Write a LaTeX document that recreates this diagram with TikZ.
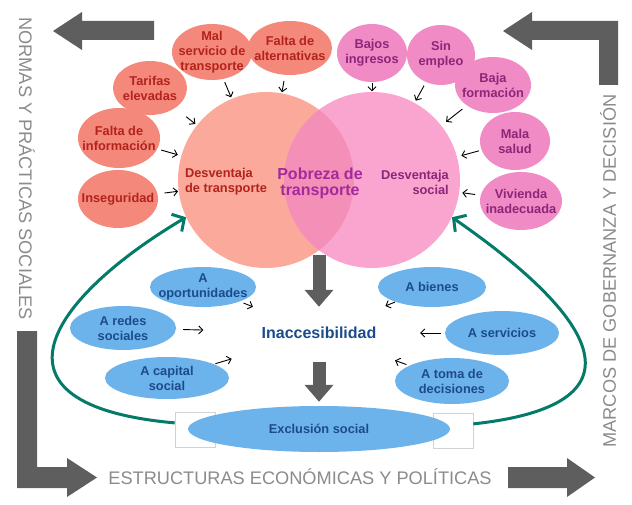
\documentclass[tikz,border=0pt]{standalone}
\usepackage{fontspec}
\setmainfont{Liberation Sans}
\usetikzlibrary{shapes.geometric,arrows.meta}
\definecolor{framegray}{HTML}{5E5E5E}
\definecolor{sidegray}{HTML}{8B8B8B}
\definecolor{boxgray}{HTML}{D2D2D2}
\definecolor{circsalmon}{HTML}{FAA99A}
\definecolor{circpink}{HTML}{F9A5CF}
\definecolor{overlappink}{HTML}{F48FB8}
\definecolor{salmonfill}{HTML}{F4887B}
\definecolor{pinkfill}{HTML}{F18BC5}
\definecolor{bluefill}{HTML}{6DB3EB}
\definecolor{redtext}{HTML}{B3231C}
\definecolor{purpletext}{HTML}{8C2679}
\definecolor{pobrtext}{HTML}{A42A9B}
\definecolor{bluetext}{HTML}{1C4B8B}
\definecolor{loopteal}{HTML}{047A68}
\begin{document}
\begin{tikzpicture}[x=1pt,y=-1pt,
    every node/.style={font=\bfseries\fontsize{12.8}{15}\selectfont, align=center},
    bubble/.style 2 args={ellipse, minimum width=#1pt, minimum height=#2pt, inner sep=-20pt},
    salmon/.style={fill=salmonfill, text=redtext},
    pinky/.style={fill=pinkfill, text=purpletext},
    bluey/.style={fill=bluefill, text=bluetext},
    smallarrow/.style={-{Straight Barb[length=4pt,width=8pt]}, line width=0.9pt},
    backflow/.style={-{Straight Barb[length=9pt,width=20pt]}, line width=3pt, draw=loopteal},
    bigdown/.style={-{Triangle[length=17pt,width=28pt]}, line width=13pt, draw=framegray},
    sidelabel/.style={font=\fontsize{18.2}{20}\selectfont, text=sidegray},
    markbox/.style={draw=boxgray, line width=0.6pt, minimum width=40pt, minimum height=35pt, inner sep=0pt}]
  \useasboundingbox (0,0) rectangle (632,505);

  \fill[framegray] (53,31) -- (82,12) -- (82,21) -- (154,21) -- (154,40) -- (82,40) -- (82,50) -- cycle;
  \fill[framegray] (503,31) -- (532,12) -- (532,21) -- (618,21) -- (618,85) -- (599,85) -- (599,40) -- (532,40) -- (532,50) -- cycle;
  \fill[framegray] (17,331) -- (37,331) -- (37,467) -- (67,467) -- (67,458) -- (97,477.5) -- (67,497) -- (67,488) -- (17,488) -- cycle;
  \fill[framegray] (508,467) -- (567,467) -- (567,458) -- (595,477.5) -- (567,497) -- (567,488) -- (508,488) -- cycle;

  \node[sidelabel, rotate=-90] (normas) at (27,168.5) {NORMAS Y PRÁCTICAS SOCIALES};
  \node[sidelabel, rotate=90] (marcos) at (608,271) {MARCOS DE GOBERNANZA Y DECISIÓN};
  \node[sidelabel] (estruct) at (300,476.5) {ESTRUCTURAS ECONÓMICAS Y POLÍTICAS};

  \node[circle, minimum size=176pt, inner sep=0pt, fill=circsalmon] (L) at (266,180) {};
  \node[circle, minimum size=176pt, inner sep=0pt, fill=circpink] (R) at (372,180) {};
  \begin{scope}
    \clip (L.center) circle[radius=88pt];
    \fill[overlappink] (R.center) circle[radius=88pt];
  \end{scope}
  \node[text=redtext, align=left] (dtra) at (226,182) {Desventaja\\de transporte};
  \node[text=pobrtext, font=\bfseries\fontsize{16}{16}\selectfont] (pobr) at (320,183) {Pobreza de\\transporte};
  \node[text=purpletext, align=right] (dsoc) at (415,182) {Desventaja\\social};

  \node[bubble={80}{58}, salmon] (inse) at (118,199) {Inseguridad};
  \node[bubble={82}{60}, salmon] (info) at (119,138) {Falta de\\información};
  \node[bubble={74}{54}, salmon] (tari) at (150,88) {Tarifas\\elevadas};
  \node[bubble={84}{54}, salmon] (falt) at (290,48) {Falta de\\alternativas};
  \node[bubble={80}{56}, salmon] (mals) at (212,52) {Mal\\servicio de\\transporte};

  \node[bubble={70}{58}, pinky] (bajo) at (372,53) {Bajos\\ingresos};
  \node[bubble={68}{60}, pinky] (sinm) at (441,55) {Sin\\empleo};
  \node[bubble={76}{56}, pinky] (bajf) at (493,85) {Baja\\formación};
  \node[bubble={70}{58}, pinky] (mala) at (515,141) {Mala\\salud};
  \node[bubble={82}{58}, pinky] (vivi) at (521,201) {Vivienda\\inadecuada};

  \node[ellipse, minimum width=200pt, minimum height=48pt, inner sep=-20pt, text=bluetext,
    font=\bfseries\fontsize{16}{18}\selectfont] (inac) at (319,333) {Inaccesibilidad};
  \node[bubble={106}{40}, bluey] (opor) at (203,287) {A\\oportunidades};
  \node[bubble={106}{44}, bluey] (rede) at (123,328) {A redes\\sociales};
  \node[bubble={124}{42}, bluey] (capi) at (167,378) {A capital\\social};
  \node[bubble={108}{40}, bluey] (bien) at (432,287) {A bienes};
  \node[bubble={114}{44}, bluey] (serv) at (502,333) {A servicios};
  \node[bubble={114}{46}, bluey] (toma) at (452,381) {A toma de\\decisiones};

  \node[markbox] (lbox) at (195,429.5) {};
  \node[markbox] (rbox) at (453,430.5) {};
  \node[bubble={262}{46}, bluey] (excl) at (319,429) {Exclusión social};

  \coordinate (meet) at (319,255);
  \draw[bigdown, shorten >=2pt] (meet) -- (inac);
  \draw[bigdown, shorten <=5pt, shorten >=4pt] (inac) -- (excl);

  \begin{scope}[smallarrow]
    \draw[shorten <=3.4pt, shorten >=1.5pt] (mals) to (L);
    \draw[shorten <=6pt, shorten >=1pt] (falt) to (L);
    \draw[shorten <=14pt, shorten >=2pt] (tari) to (L);
    \draw[shorten <=4pt, shorten >=3.5pt] (info) to (L);
    \draw[shorten <=7pt, shorten >=0.5pt] (inse) to (L);
    \draw[shorten <=0.5pt, shorten >=0.5pt] (bajo) to (R);
    \draw[shorten <=4pt, shorten >=2.4pt] (sinm) to (R);
    \draw[shorten <=5.6pt, shorten >=6pt] (bajf) to (R);
    \draw[shorten <=2.8pt, shorten >=4.4pt] (mala) to (R);
    \draw[shorten <=5.5pt, shorten >=3pt] (vivi) to (R);
    \draw[shorten <=4pt, shorten >=15pt] (opor) to (inac);
    \draw[shorten <=7pt, shorten >=16pt] (rede) to (inac);
    \draw[shorten <=1.5pt, shorten >=25pt] (capi) to (inac);
    \draw[shorten <=0.5pt, shorten >=16.5pt] (bien) to (inac);
    \draw[shorten <=4pt, shorten >=1pt] (serv) to (inac);
    \draw[shorten <=3pt, shorten >=21.6pt] (toma) to (inac);
  \end{scope}

  \draw[backflow] (lbox.162) .. controls (-25,405) and (50,298) .. (L.205);
  \draw[backflow] (rbox.18) .. controls (648,405) and (600,320) .. (R.-25);
\end{tikzpicture}
\end{document}
